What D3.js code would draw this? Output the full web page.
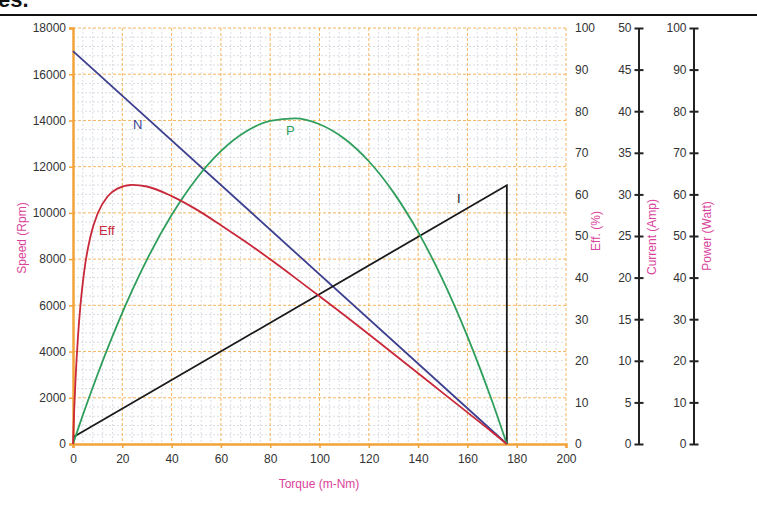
<!DOCTYPE html>
<html>
<head>
<meta charset="utf-8">
<script src="https://cdn.jsdelivr.net/npm/d3@7"></script>
<style>
  html, body { margin: 0; padding: 0; background: #fff; }
  svg { display: block; font-family: "Liberation Sans", Arial, sans-serif; }
</style>
</head>
<body>
<svg id="chart" width="757" height="525"></svg>
<script>
// ---- data ----
const torqueTicks = [0, 20, 40, 60, 80, 100, 120, 140, 160, 180, 200];
const speedTicks = [0, 2000, 4000, 6000, 8000, 10000, 12000, 14000, 16000, 18000];
const effTicks = [0, 10, 20, 30, 40, 50, 60, 70, 80, 90, 100];
const currentTicks = [0, 5, 10, 15, 20, 25, 30, 35, 40, 45, 50];
const powerTicks = [0, 10, 20, 30, 40, 50, 60, 70, 80, 90, 100];

// speed line N
const speedTorque = [0, 176];
const speedValues = [17000, 0];

// current I (drops vertically at stall torque)
const currentTorque = [0, 176, 176];
const currentValues = [0.8, 31.1, 0];

// torque sample points for P and Eff
const torque = [0, 0.5, 1, 2, 3, 4, 5, 7, 10, 14, 18, 24, 30, 40, 50, 60, 70, 80, 90, 100, 110, 120, 130, 140, 150, 160, 170, 176];
const powerValues = [0, 0.89, 1.77, 3.52, 5.25, 6.96, 8.65, 11.97, 16.78, 22.94, 28.77, 36.91, 44.33, 55.03, 63.72, 70.40, 75.05, 77.68, 78.29, 76.87, 73.44, 67.97, 60.49, 50.98, 39.45, 25.89, 10.32, 0];
const effValues = [0, 8.4, 15.2, 25.6, 33.2, 38.9, 43.4, 49.7, 55.4, 59.5, 61.4, 62.3, 61.9, 59.6, 56.4, 52.6, 48.6, 44.4, 40.0, 35.5, 31.0, 26.4, 21.7, 17.0, 12.3, 7.6, 2.9, 0];

// ---- drawing ----
const svg = d3.select("#chart");
const L = 73, R = 566, T = 28, B = 444;

const x = d3.scaleLinear().domain([0, 200]).range([L, R]);
const ySpeed = d3.scaleLinear().domain([0, 18000]).range([B, T]);
const yEff = d3.scaleLinear().domain([0, 100]).range([B, T]);
const yCur = d3.scaleLinear().domain([0, 50]).range([B, T]);
const yPow = d3.scaleLinear().domain([0, 100]).range([B, T]);

const orange = "#f2a33a";
const pink = "#d9439b";
const tickColor = "#333";

// header fragment
svg.append("text").attr("x", -2).attr("y", 7)
  .attr("font-size", 22).attr("font-weight", "bold").attr("fill", "#111")
  .text("es.");
svg.append("line").attr("x1", 0).attr("x2", 757).attr("y1", 15).attr("y2", 15)
  .attr("stroke", "#111").attr("stroke-width", 2);

// minor grid
const g = svg.append("g");
const minorX = d3.range(0, 201, 4).filter(v => v % 20 !== 0);
const minorY = d3.range(0, 18001, 400).filter(v => v % 2000 !== 0);
g.selectAll(".mx").data(minorX).join("line")
  .attr("x1", d => x(d)).attr("x2", d => x(d)).attr("y1", T).attr("y2", B)
  .attr("stroke", "#d8dde3").attr("stroke-width", 1).attr("stroke-dasharray", "2,2");
g.selectAll(".my").data(minorY).join("line")
  .attr("y1", d => ySpeed(d)).attr("y2", d => ySpeed(d)).attr("x1", L).attr("x2", R)
  .attr("stroke", "#d8dde3").attr("stroke-width", 1).attr("stroke-dasharray", "2,2");

// major grid
g.selectAll(".Mx").data(torqueTicks.slice(1)).join("line")
  .attr("x1", d => x(d)).attr("x2", d => x(d)).attr("y1", T).attr("y2", B)
  .attr("stroke", orange).attr("stroke-opacity", 0.8).attr("stroke-width", 1).attr("stroke-dasharray", "3,2");
g.selectAll(".My").data(speedTicks.slice(1)).join("line")
  .attr("y1", d => ySpeed(d)).attr("y2", d => ySpeed(d)).attr("x1", L).attr("x2", R)
  .attr("stroke", orange).attr("stroke-opacity", 0.8).attr("stroke-width", 1).attr("stroke-dasharray", "3,2");

// left axis (speed)
const axL = svg.append("g").attr("transform", `translate(${L},0)`)
  .call(d3.axisLeft(ySpeed).tickValues(speedTicks).tickSize(4).tickPadding(3).tickFormat(d3.format("d")));
axL.select(".domain").attr("stroke", orange).attr("stroke-width", 2.5);
axL.selectAll(".tick line").attr("stroke", orange).attr("stroke-width", 1.5);
axL.selectAll("text").attr("font-size", 12).attr("fill", tickColor).attr("font-family", "Liberation Sans, Arial, sans-serif");

// bottom axis (torque)
const axB = svg.append("g").attr("transform", `translate(0,${B})`)
  .call(d3.axisBottom(x).tickValues(torqueTicks).tickSize(4).tickPadding(6));
axB.select(".domain").attr("stroke", orange).attr("stroke-width", 2.5);
axB.selectAll(".tick line").attr("stroke", orange).attr("stroke-width", 1.5);
axB.selectAll("text").attr("font-size", 12).attr("fill", tickColor).attr("font-family", "Liberation Sans, Arial, sans-serif");

// efficiency axis (labels only)
const axE = svg.append("g").attr("transform", `translate(${R},0)`)
  .call(d3.axisRight(yEff).tickValues(effTicks).tickSize(0).tickPadding(9));
axE.select(".domain").remove();
axE.selectAll("text").attr("font-size", 12).attr("fill", tickColor).attr("font-family", "Liberation Sans, Arial, sans-serif");

// current axis
const axC = svg.append("g").attr("transform", `translate(638.5,0)`)
  .call(d3.axisLeft(yCur).tickValues(currentTicks).tickSizeInner(0).tickSizeOuter(0).tickPadding(7));
axC.select(".domain").attr("stroke", "#222").attr("stroke-width", 2);
axC.selectAll(".tick").append("line").attr("x1", -4).attr("x2", 5).attr("stroke", "#222").attr("stroke-width", 2);
axC.selectAll("text").attr("font-size", 12).attr("fill", tickColor).attr("font-family", "Liberation Sans, Arial, sans-serif");

// power axis
const axP = svg.append("g").attr("transform", `translate(693.5,0)`)
  .call(d3.axisLeft(yPow).tickValues(powerTicks).tickSizeInner(0).tickSizeOuter(0).tickPadding(7));
axP.select(".domain").attr("stroke", "#222").attr("stroke-width", 2);
axP.selectAll(".tick").append("line").attr("x1", -4).attr("x2", 5).attr("stroke", "#222").attr("stroke-width", 2);
axP.selectAll("text").attr("font-size", 12).attr("fill", tickColor).attr("font-family", "Liberation Sans, Arial, sans-serif");

// axis titles
function vtitle(tx, ty, txt) {
  svg.append("text").attr("transform", `translate(${tx},${ty}) rotate(-90)`)
    .attr("text-anchor", "middle").attr("font-size", 12).attr("fill", pink).text(txt);
}
vtitle(26, 238, "Speed (Rpm)");
vtitle(600, 231, "Eff. (%)");
vtitle(656, 237, "Current (Amp)");
vtitle(711, 236, "Power (Watt)");
svg.append("text").attr("x", 319).attr("y", 488).attr("text-anchor", "middle")
  .attr("font-size", 12).attr("fill", pink).text("Torque (m-Nm)");

// curves
const curvesG = svg.append("g").attr("fill", "none").attr("stroke-width", 1.8);

const speedLine = d3.line().x(d => x(d[0])).y(d => ySpeed(d[1]));
curvesG.append("path").datum(d3.zip(speedTorque, speedValues))
  .attr("d", speedLine).attr("stroke", "#3d3f8f");

const curLine = d3.line().x(d => x(d[0])).y(d => yCur(d[1]));
curvesG.append("path").datum(d3.zip(currentTorque, currentValues))
  .attr("d", curLine).attr("stroke", "#1a1a1a");

const powLine = d3.line().x(d => x(d[0])).y(d => yPow(d[1])).curve(d3.curveMonotoneX);
curvesG.append("path").datum(d3.zip(torque, powerValues))
  .attr("d", powLine).attr("stroke", "#2f9e5c");

const effLine = d3.line().x(d => x(d[0])).y(d => yEff(d[1])).curve(d3.curveMonotoneX);
curvesG.append("path").datum(d3.zip(torque, effValues))
  .attr("d", effLine).attr("stroke", "#c9283a");

// curve labels
function lab(tx, ty, txt, col) {
  svg.append("text").attr("x", tx).attr("y", ty).attr("font-size", 13)
    .attr("fill", col).text(txt);
}
lab(133, 129, "N", "#3d3f8f");
lab(286, 135, "P", "#2f9e5c");
lab(99, 235, "Eff", "#c9283a");
lab(457, 203, "I", "#1a1a1a");
</script>
</body>
</html>
